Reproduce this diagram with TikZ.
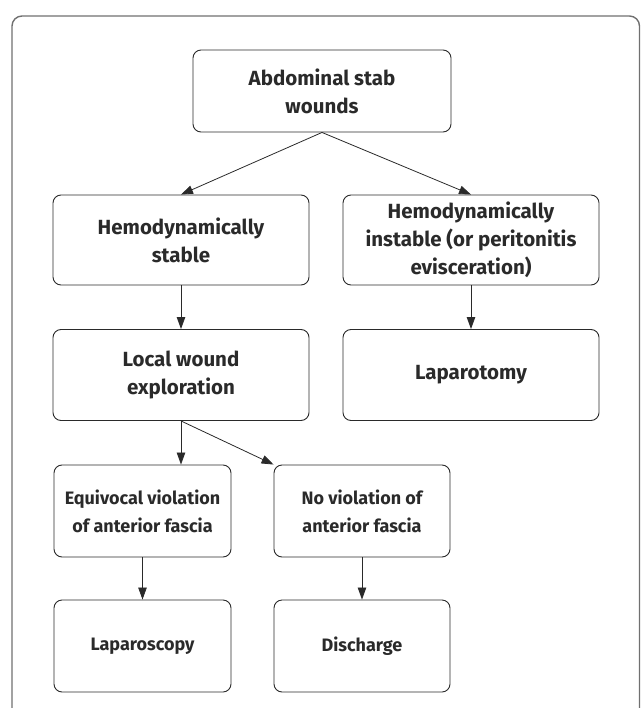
\documentclass[tikz,border=0pt]{standalone}
\usepackage{fontspec}
\setmainfont{Fira Sans}
\usetikzlibrary{arrows.meta}
\definecolor{ln}{HTML}{2A2A2A}
\definecolor{frame}{HTML}{707070}
\begin{document}
\begin{tikzpicture}[x=1pt,y=-1pt,
  box/.style={draw=ln,line width=0.9pt,rounded corners=8pt,align=center,inner sep=0pt,
    font=\bfseries\fontsize{20.5}{28}\selectfont,text=ln},
  sbox/.style={box,font=\bfseries\fontsize{18}{28}\selectfont},
  arr/.style={draw=ln,line width=0.8pt,-{Triangle[length=12pt,width=8.5pt]}}]
\useasboundingbox (0,0) rectangle (642,708);
\begin{scope}
\clip (0,0) rectangle (642,708);
\draw[frame,line width=1.4pt,rounded corners=10pt] (12,16) rectangle (639.5,740);
\end{scope}
\node[box,minimum width=258pt,minimum height=82pt] (a) at (322,91) {Abdominal stab\\wounds};
\node[box,minimum width=256pt,minimum height=90pt] (hs) at (181,240) {Hemodynamically\\stable};
\node[box,minimum width=256pt,minimum height=90pt] (hi) at (471,240) {Hemodynamically\\instable (or peritonitis\\evisceration)};
\node[box,minimum width=256pt,minimum height=91pt] (lw) at (181,375) {Local wound\\exploration};
\node[box,minimum width=256pt,minimum height=91pt] (lp) at (471,375) {Laparotomy};
\node[sbox,minimum width=177pt,minimum height=92pt] (eq) at (142.5,511) {Equivocal violation\\of anterior fascia};
\node[sbox,minimum width=176pt,minimum height=92pt] (nv) at (362,511) {No violation of\\anterior fascia};
\node[sbox,minimum width=177pt,minimum height=92pt] (ls) at (142.5,646) {Laparoscopy};
\node[sbox,minimum width=176pt,minimum height=92pt] (dc) at (362,646) {Discharge};
\draw[arr] (a.south) -- (hs.north);
\draw[arr] (a.south) -- (hi.north);
\draw[arr] (hs.south) -- (lw.north);
\draw[arr] (hi.south) -- (lp.north);
\draw[arr] (lw.south) -- (lw.south |- eq.north);
\draw[arr] (lw.south) -- (nv.north west);
\draw[arr] (eq.south) -- (ls.north);
\draw[arr] (nv.south) -- (dc.north);
\end{tikzpicture}
\end{document}
